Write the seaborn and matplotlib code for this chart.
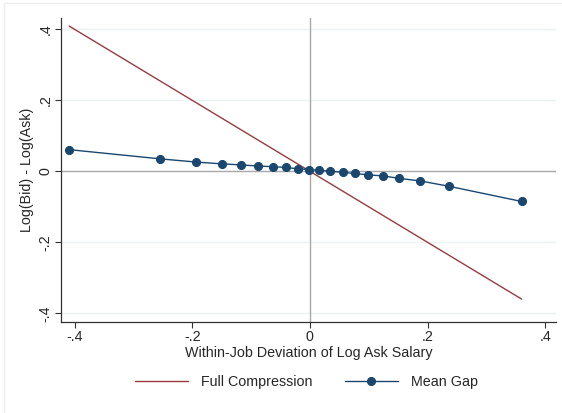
import numpy as np
import pandas as pd
import matplotlib
matplotlib.use("Agg")
import matplotlib.pyplot as plt
import matplotlib.patches as mpatches
import seaborn as sns

# ---- data ----
ask_dev = [-0.409, -0.254, -0.193, -0.150, -0.117, -0.089, -0.063, -0.041, -0.021, -0.001,
           0.016, 0.035, 0.056, 0.076, 0.099, 0.125, 0.152, 0.187, 0.236, 0.360]
mean_gap = [0.061, 0.035, 0.026, 0.021, 0.018, 0.015, 0.013, 0.011, 0.007, 0.005,
            0.003, 0.000, -0.003, -0.006, -0.010, -0.013, -0.020, -0.027, -0.042, -0.085]
full_comp = [-v for v in ask_dev]   # full compression: bid = mean, gap = -deviation

tick_vals = [-0.4, -0.2, 0, 0.2, 0.4]
tick_labels = ["-.4", "-.2", "0", ".2", ".4"]

df = pd.DataFrame({"x": ask_dev, "gap": mean_gap, "full": full_comp})

# ---- style ----
sns.set_style("white")
plt.rcParams["font.family"] = ["Liberation Sans", "DejaVu Sans"]

red = "#9A3A40"
navy = "#1A476F"
fs = 10.3

fig = plt.figure(figsize=(5.62, 4.13), dpi=100)
ax = fig.add_axes([0.1085, 0.2203, 0.8805, 0.7361])

# faint outer graph-region border
fig.patches.append(mpatches.Rectangle((0.008, -0.1), 1.2, 1.093, transform=fig.transFigure,
                                      fill=False, edgecolor="#EDEDED", linewidth=1.0))

for t in [-0.4, -0.2, 0.2, 0.4]:
    ax.axhline(t, color="#EAF2F3", linewidth=1.0, zorder=0)
ax.axhline(0, color="#A8A8A8", linewidth=1.0, zorder=1)
ax.axvline(0, color="#A8A8A8", linewidth=1.0, zorder=1)

sns.lineplot(data=df, x="x", y="full", ax=ax, color=red, linewidth=1.0,
             label="Full Compression", zorder=2)
sns.lineplot(data=df, x="x", y="gap", ax=ax, color=navy, linewidth=1.0,
             marker="o", markersize=5.8, markeredgecolor=navy,
             label="Mean Gap", zorder=3)

ax.set_xlim(-0.423, 0.418)
ax.set_ylim(-0.4245, 0.4318)
ax.set_xticks(tick_vals)
ax.set_xticklabels(tick_labels)
ax.set_yticks(tick_vals)
ax.set_yticklabels(tick_labels, rotation=90, va="center")

ax.tick_params(axis="both", direction="out", length=4, width=0.8, color="#333333",
               labelsize=fs, pad=2, left=True, bottom=True)
for s in ["top", "right"]:
    ax.spines[s].set_visible(False)
for s in ["left", "bottom"]:
    ax.spines[s].set_color("#333333")
    ax.spines[s].set_linewidth(0.9)

ax.set_xlabel("Within-Job Deviation of Log Ask Salary", fontsize=fs, labelpad=1)
ax.set_ylabel("Log(Bid) - Log(Ask)", fontsize=fs, labelpad=3)

handles, labels = ax.get_legend_handles_labels()
ax.get_legend().remove()
fig.legend(handles, labels, loc="center", bbox_to_anchor=(0.545, 0.075), ncol=2,
           frameon=False, fontsize=fs, handlelength=3.7, columnspacing=2.3,
           handletextpad=0.9)

fig.savefig("out.png", dpi=100)
